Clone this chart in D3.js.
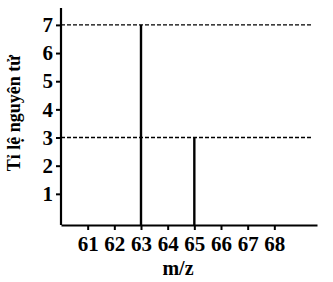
<!DOCTYPE html>
<html>
<head>
<meta charset="utf-8">
<script src="https://cdn.jsdelivr.net/npm/d3@7"></script>
<style>
  body { margin: 0; background: #fff; }
  svg text { font-family: "Liberation Serif", "DejaVu Serif", serif; font-weight: bold; fill: #000; }
</style>
</head>
<body>
<svg id="chart" width="333" height="282"></svg>
<script>
// isotope peaks
const masses = [63, 65];
const ratios = [7, 3];
const xTicks = [61, 62, 63, 64, 65, 66, 67, 68];
const yTicks = [1, 2, 3, 4, 5, 6, 7];
const xTitle = 'm/z';
const yTitle = 'Tỉ lệ nguyên tử';

const margin = {left: 61, top: 8, right: 16, bottom: 57};
const width = 333, height = 282;
const svg = d3.select('#chart');

const x = d3.scaleLinear().domain([60, 69.6]).range([margin.left, width - margin.right]);
const y = d3.scaleLinear().domain([0, 7.6]).range([height - margin.bottom - 3, margin.top]);
const x0 = height - margin.bottom; // x-axis line y

// dashed reference lines
svg.selectAll('.ref')
    .data(ratios)
    .enter().append('line')
    .attr('x1', margin.left)
    .attr('x2', 313)
    .attr('y1', d => y(d))
    .attr('y2', d => y(d))
    .attr('stroke', '#000')
    .attr('stroke-width', 1.4)
    .attr('stroke-dasharray', '4,2');

// peaks
svg.selectAll('.peak')
    .data(masses)
    .enter().append('line')
    .attr('x1', d => x(d))
    .attr('x2', d => x(d))
    .attr('y1', x0)
    .attr('y2', (d, i) => y(ratios[i]))
    .attr('stroke', '#000')
    .attr('stroke-width', 2.4);

// axes
const xAxis = svg.append('g')
    .attr('transform', 'translate(0,' + x0 + ')')
    .call(d3.axisBottom(x).tickValues(xTicks).tickSize(5).tickPadding(6).tickSizeOuter(0));
xAxis.attr('font-size', null);
xAxis.select('.domain').attr('stroke-width', 2.2);
xAxis.selectAll('.tick line').attr('stroke-width', 2);
xAxis.selectAll('.tick text').style('font-size', '21px');

const yAxis = svg.append('g')
    .attr('transform', 'translate(' + margin.left + ',0)')
    .call(d3.axisLeft(y).tickValues(yTicks).tickSize(5).tickPadding(3).tickSizeOuter(0));
yAxis.attr('font-size', null);
yAxis.select('.domain').attr('d', 'M0,' + x0 + 'V' + margin.top).attr('stroke-width', 2.2);
yAxis.selectAll('.tick line').attr('stroke-width', 2);
yAxis.selectAll('.tick text').style('font-size', '21px');

// titles
svg.append('text')
    .attr('x', 178)
    .attr('y', 275)
    .attr('text-anchor', 'middle')
    .style('font-size', '20px')
    .text(xTitle);

svg.append('text')
    .attr('transform', 'translate(20,113) rotate(-90)')
    .attr('text-anchor', 'middle')
    .style('font-size', '18px')
    .text(yTitle);
</script>
</body>
</html>
